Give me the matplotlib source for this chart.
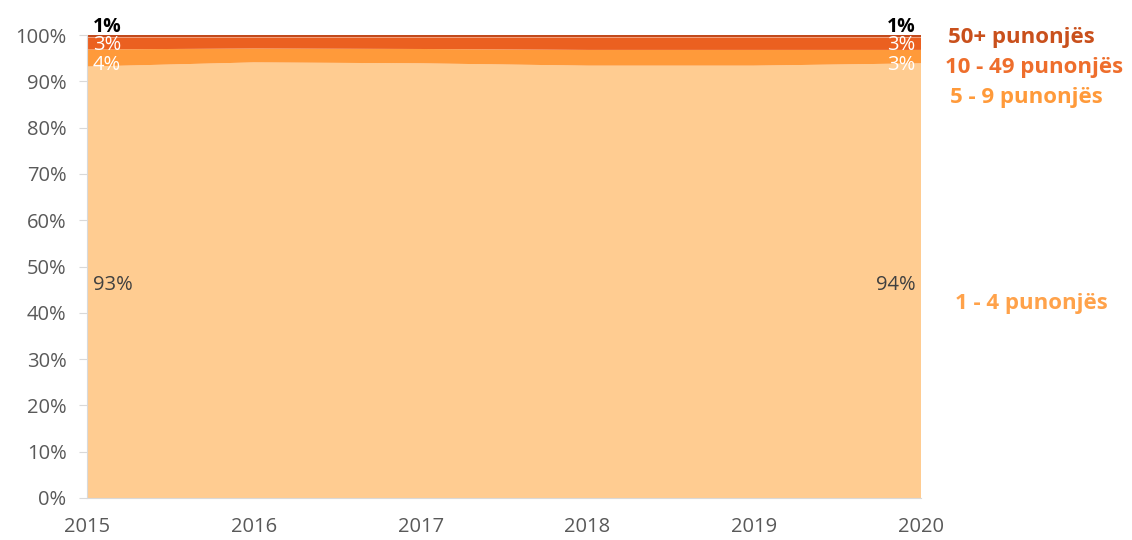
import matplotlib
matplotlib.use("Agg")
import matplotlib.pyplot as plt
import numpy as np

years = [2015, 2016, 2017, 2018, 2019, 2020]
s1_4 = [93.2, 94.1, 93.9, 93.4, 93.4, 93.9]
s5_9 = [3.7, 3.0, 3.1, 3.4, 3.4, 2.9]
s10_49 = [2.6, 2.4, 2.5, 2.7, 2.7, 2.7]
s50 = [0.5, 0.5, 0.5, 0.5, 0.5, 0.5]
series_names = ["1 - 4 punonjës", "5 - 9 punonjës", "10 - 49 punonjës", "50+ punonjës"]
colors = ["#FFCC91", "#FF9A3A", "#EB6020", "#C24A1C"]
label_colors = ["#FFA24A", "#FF9A3A", "#EE6E2C", "#C9501C"]

plt.rcParams['font.family'] = ['Open Sans', 'DejaVu Sans']

fig = plt.figure(figsize=(11.32, 5.40), dpi=100)
ax = fig.add_axes([0.0769, 0.0778, 0.8136 - 0.0769, 0.935 - 0.0778])

data = np.array([s1_4, s5_9, s10_49, s50])
ax.stackplot(years, data, colors=colors, linewidth=0)

ax.set_xlim(2015, 2020)
ax.set_ylim(0, 100)
ax.set_yticks(np.arange(0, 101, 10))
ax.set_yticklabels([f"{v}%" for v in range(0, 101, 10)])
ax.set_xticks(years)
ax.tick_params(axis='both', labelsize=14.5, colors="#595959")
ax.tick_params(axis='y', length=5.8, color="#D9D9D9", pad=9)
ax.tick_params(axis='x', length=0, pad=14)
for side in ["top", "right"]:
    ax.spines[side].set_visible(False)
for side in ["left", "bottom"]:
    ax.spines[side].set_color("#D9D9D9")

# data labels
for idx, ha, dx in [(0, "left", 0.035), (5, "right", -0.035)]:
    x = years[idx] + dx
    ax.text(x, 101.7, "1%", ha=ha, va="center",
            fontsize=14, fontweight="bold", color="black")
    ax.text(x, 97.9, f"{round(s10_49[idx])}%", ha=ha, va="center",
            fontsize=14.5, color="white")
    ax.text(x, 93.5, f"{round(s5_9[idx])}%", ha=ha, va="center",
            fontsize=14.5, color="white")
    ax.text(x, 46, f"{round(s1_4[idx])}%", ha=ha, va="center",
            fontsize=14.5, color="#404040")

# series labels at right
lab_pos = [(955, 304), (950, 98), (945, 67), (948, 37)]
for name, col, (px, py) in zip(series_names, label_colors, lab_pos):
    fig.text(px / 1132, 1 - py / 540, name, ha="left", va="center", fontsize=16,
             fontweight="bold", color=col)

fig.savefig("out.png", dpi=100)
